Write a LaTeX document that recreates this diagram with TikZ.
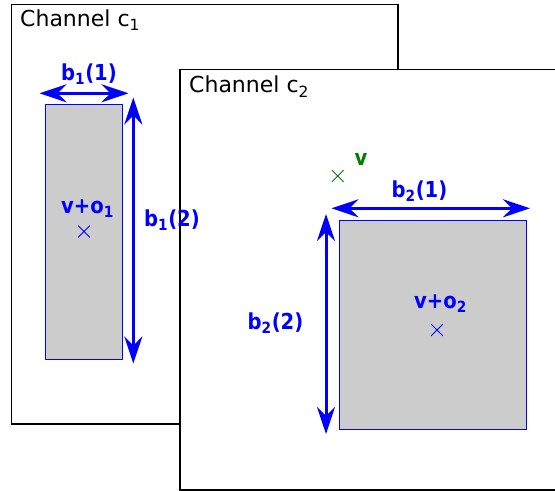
\documentclass[tikz,border=0pt]{standalone}
\usepackage{fontspec}
\setmainfont{DejaVu Sans}
\newfontfamily\dimfont{DejaVu Sans}[FakeStretch=0.89]
\usetikzlibrary{arrows.meta,shapes.misc}

\definecolor{markgreen}{RGB}{0,128,0}
\newcommand{\chsub}[1]{\textsubscript{#1}}

\tikzset{
  frame/.style={draw=black, line width=1.5bp, fill=white},
  pixbox/.style={draw=blue, line width=1bp, fill=black!20},
  dimarrow/.style={draw=blue, line width=3bp,
    {Stealth[length=27bp,width=18bp,inset=9bp]}-{Stealth[length=27bp,width=18bp,inset=9bp]}},
  chlabel/.style={anchor=base west, inner sep=0pt, font=\fontsize{22bp}{26bp}\selectfont},
  dimlabel/.style={anchor=base, inner sep=0pt, text=blue,
    font=\dimfont\fontsize{22bp}{26bp}\selectfont\bfseries},
  pos/.style={cross out, draw=#1, line width=0.8bp, minimum size=11bp, inner sep=0pt},
}

\begin{document}
\begin{tikzpicture}[x=1bp,y=-1bp]
\useasboundingbox (0,0) rectangle (555,491);

% the two channel frames, c2 lying over c1
\draw[frame] (11.5,4.5) rectangle (398,424);
\node[chlabel] (ch1) at (20,26.3) {Channel c\chsub{1}};
\draw[frame] (180,69.5) rectangle (600,490);
\node[chlabel] (ch2) at (189,93) {Channel c\chsub{2}};

% channel c1
\draw[pixbox] (45,104.5) rectangle (122.5,359);
\coordinate (w1l) at (39.5,93.3);
\coordinate (w1r) at (128.5,93.3);
\coordinate (h1t) at (133.3,97.5);
\coordinate (h1b) at (133.3,363.5);
\draw[dimarrow] (w1l) -- (w1r);
\draw[dimarrow] (h1t) -- (h1b);
\node[dimlabel] (lw1) at (89,80.7) {b\chsub{1}(1)};
\node[dimlabel] (lh1) at (172,226.7) {b\chsub{1}(2)};
\node[dimlabel] (lo1) at (87.5,213.5) {v+o\chsub{1}};
\node[pos=blue] (x1) at (84,231.5) {};

% channel c2
\draw[pixbox] (339,220) rectangle (526.5,429.3);
\coordinate (w2l) at (331.5,208.3);
\coordinate (w2r) at (530,208.3);
\coordinate (h2t) at (326,214);
\coordinate (h2b) at (326,434);
\draw[dimarrow] (w2l) -- (w2r);
\draw[dimarrow] (h2t) -- (h2b);
\node[dimlabel] (lw2) at (419.5,197.3) {b\chsub{2}(1)};
\node[dimlabel] (lh2) at (275.5,329.3) {b\chsub{2}(2)};
\node[dimlabel] (lo2) at (440.5,308.3) {v+o\chsub{2}};
\node[pos=blue] (x2) at (437,330) {};
\node[pos=markgreen] (xv) at (337.7,176) {};
\node[dimlabel, text=markgreen] (lv) at (361,166) {v};
\end{tikzpicture}
\end{document}
